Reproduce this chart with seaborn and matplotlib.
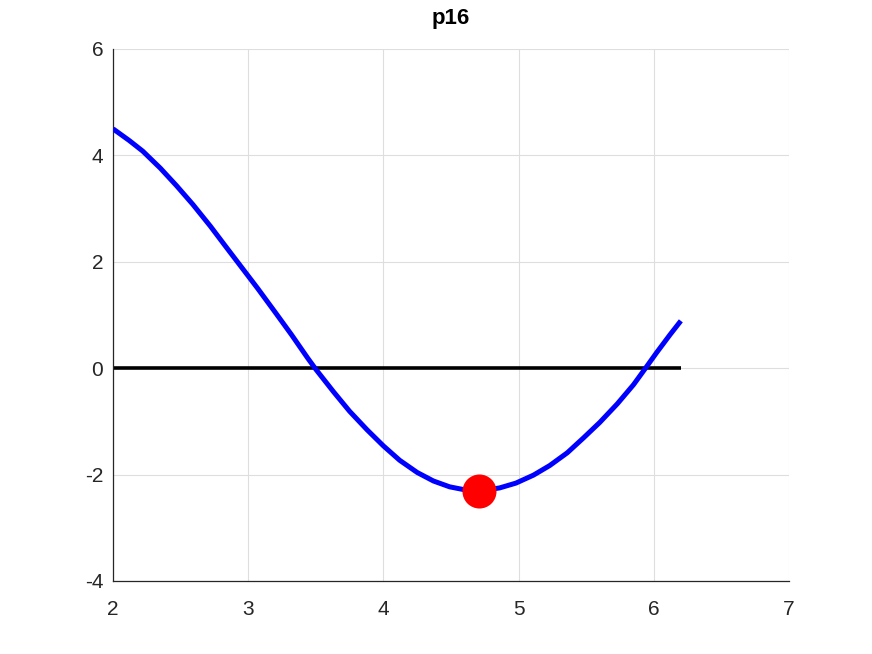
import matplotlib
matplotlib.use("Agg")
import matplotlib.pyplot as plt
import seaborn as sns
import pandas as pd

# data
curve_x = [2.00, 2.12, 2.22, 2.35, 2.47, 2.59, 2.72, 2.83, 2.95, 3.07, 3.20, 3.32,
           3.44, 3.50, 3.63, 3.75, 3.88, 4.00, 4.12, 4.25, 4.37, 4.49, 4.61, 4.71,
           4.86, 4.98, 5.11, 5.23, 5.36, 5.48, 5.60, 5.73, 5.85, 5.93, 6.02, 6.12, 6.20]
curve_y = [4.50, 4.28, 4.08, 3.76, 3.43, 3.08, 2.67, 2.30, 1.90, 1.50, 1.05, 0.63,
           0.19, -0.02, -0.44, -0.81, -1.16, -1.46, -1.73, -1.96, -2.12, -2.23, -2.29, -2.31,
           -2.25, -2.16, -2.01, -1.83, -1.59, -1.31, -1.02, -0.67, -0.31, -0.03, 0.29, 0.63, 0.89]
zero_x = [2.0, 6.2]
zero_y = [0.0, 0.0]
point_x = [4.71]
point_y = [-2.30]
x_ticks = [2, 3, 4, 5, 6, 7]
y_ticks = [-4, -2, 0, 2, 4, 6]
title = "p16"

sns.set_theme(style="white")
plt.rcParams['font.family'] = ['Liberation Sans', 'DejaVu Sans']

fig = plt.figure(figsize=(8.72, 6.54), dpi=100)
ax = fig.add_axes([113/872, 1 - 581/654, (789 - 113)/872, (581 - 49)/654])

df_curve = pd.DataFrame({"x": curve_x, "y": curve_y})
df_zero = pd.DataFrame({"x": zero_x, "y": zero_y})
df_pt = pd.DataFrame({"x": point_x, "y": point_y})

sns.lineplot(data=df_curve, x="x", y="y", ax=ax, color="#0000ff", linewidth=3.6,
             estimator=None, sort=False, zorder=3)
sns.lineplot(data=df_zero, x="x", y="y", ax=ax, color="black", linewidth=2.6,
             estimator=None, sort=False, zorder=2)
sns.scatterplot(data=df_pt, x="x", y="y", ax=ax, color="#ff0000", s=24.5**2,
                edgecolor="#ff0000", linewidth=0, zorder=4)
for ln in ax.lines:
    ln.set_solid_joinstyle("round")
    ln.set_solid_capstyle("butt")

ax.set_xlim(2, 7)
ax.set_ylim(-4, 6)
ax.set_xticks(x_ticks)
ax.set_yticks(y_ticks)
ax.set_xticklabels([str(t) for t in x_ticks])
ax.set_yticklabels([str(t) for t in y_ticks])
ax.set_xlabel("")
ax.set_ylabel("")

ax.grid(True, color="#dedede", linewidth=0.8)
ax.set_axisbelow(True)
for side in ["top", "right"]:
    ax.spines[side].set_visible(False)
for side in ["left", "bottom"]:
    ax.spines[side].set_visible(True)
    ax.spines[side].set_color("#262626")
    ax.spines[side].set_linewidth(0.9)

ax.tick_params(axis="both", direction="in", length=5, width=0.9, colors="#262626",
               labelsize=15, labelcolor="#262626")
ax.tick_params(axis="x", pad=14)
ax.tick_params(axis="y", pad=7)

ax.set_title(title, fontsize=16, fontweight="bold", color="black", pad=18)

fig.savefig("out.png", dpi=100)
